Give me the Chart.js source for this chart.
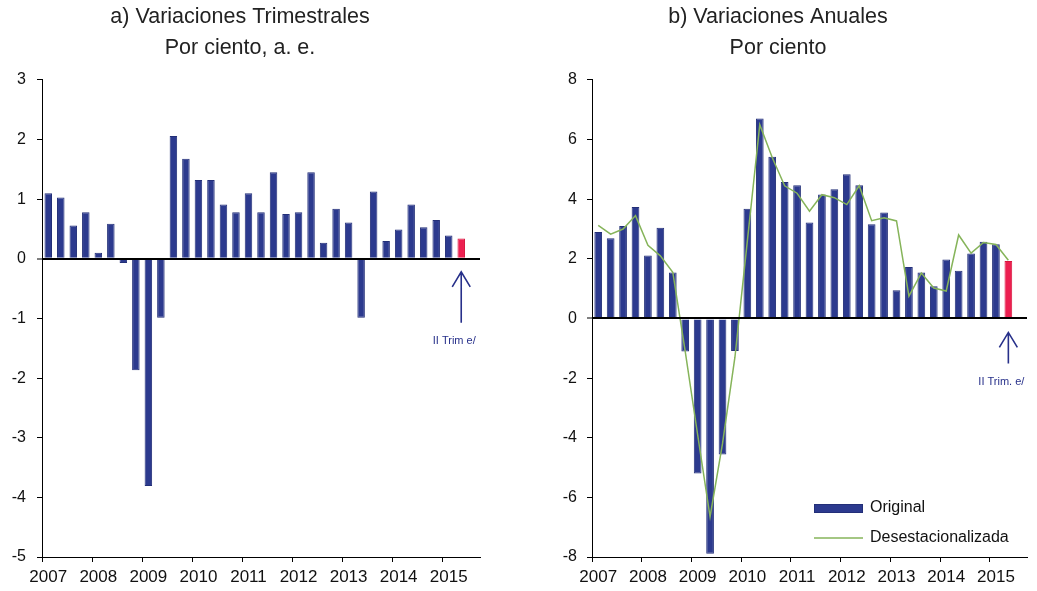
<!DOCTYPE html>
<html>
<head>
<meta charset="utf-8">
<script src="https://cdn.jsdelivr.net/npm/chart.js@4.4.0/dist/chart.umd.min.js"></script>
<style>
  body { margin: 0; background: #fff; width: 1037px; height: 591px; overflow: hidden; position: relative; }
  canvas { position: absolute; top: 0; }
  #trim { left: 0; }
  #anual { left: 520px; }
</style>
</head>
<body>
<canvas id="trim" width="520" height="591"></canvas>
<canvas id="anual" width="517" height="591"></canvas>
<script>
// data (2007-I .. 2015-II)
const years = ['2007', '2008', '2009', '2010', '2011', '2012', '2013', '2014', '2015'];
const quarters = ['I', 'II', 'III', 'IV'];

const trimestral = [1.10, 1.03, 0.56, 0.78, 0.10, 0.59, -0.07, -1.87, -3.81, -0.99, 2.06, 1.68,
  1.32, 1.32, 0.91, 0.78, 1.10, 0.78, 1.45, 0.75, 0.78, 1.45, 0.27, 0.84, 0.61, -0.99,
  1.13, 0.30, 0.49, 0.91, 0.53, 0.65, 0.39, 0.34];

const anualOriginal = [2.90, 2.69, 3.10, 3.74, 2.11, 3.04, 1.54, -1.11, -5.20, -7.89, -4.56, -1.09,
  3.68, 6.71, 5.42, 4.58, 4.47, 3.22, 4.16, 4.33, 4.84, 4.47, 3.16, 3.55, 0.95, 1.73,
  1.54, 1.08, 1.98, 1.60, 2.18, 2.57, 2.49, 1.93];

const anualDesest = [3.12, 2.83, 3.00, 3.45, 2.45, 2.10, 1.55, -1.10, -3.90, -6.65, -4.20, -1.30,
  2.60, 6.50, 5.40, 4.45, 4.20, 3.60, 4.15, 4.05, 3.82, 4.45, 3.28, 3.38, 3.27, 0.75,
  1.52, 1.02, 0.92, 2.80, 2.19, 2.55, 2.48, 1.95];

const titleTrim = ['a) Variaciones Trimestrales', 'Por ciento, a. e.'];
const titleAnual = ['b) Variaciones Anuales', 'Por ciento'];
const seriesNames = ['Original', 'Desestacionalizada'];
const noteTrim = 'II Trim e/';
const noteAnual = 'II Trim. e/';

const NAVY = '#2c3a8e';
const RED = '#ec1f50';
const GREEN = '#86b45a';

// axis runs to 2015-III (one empty slot after the last bar)
const categories = [];
years.forEach(y => quarters.forEach(q => categories.push(y + '-' + q)));
categories.length = 35;

Chart.defaults.font.family = '"Liberation Sans", Arial, sans-serif';
Chart.defaults.color = '#111';

function barColors(values) {
  return values.map((v, i) => i === values.length - 1 ? RED : NAVY);
}
function barBorders(values) {
  return values.map((v, i) => i === values.length - 1 ? '#d8163f' : '#232f78');
}

function xAxis() {
  return {
    offset: true,
    grid: {
      offset: true,
      drawOnChartArea: false,
      drawTicks: true,
      tickLength: 5,
      color: ctx => ctx.index % 4 === 0 ? '#000' : 'rgba(0,0,0,0)'
    },
    border: { color: '#000', width: 1 },
    ticks: {
      autoSkip: false,
      maxRotation: 0,
      padding: 5,
      font: { size: 17 },
      callback: (v, i) => categories[i].endsWith('-I') ? categories[i].slice(0, 4) : ''
    },
    afterFit: s => { s.height = 34; }
  };
}

function yAxis(min, max, step, width, pad) {
  return {
    min: min, max: max,
    ticks: { stepSize: step, padding: pad, font: { size: 16 } },
    grid: {
      z: 1,
      drawTicks: true,
      tickLength: 5,
      tickColor: '#000',
      tickWidth: 1,
      color: ctx => ctx.tick && ctx.tick.value === 0 ? '#000' : 'rgba(0,0,0,0)',
      lineWidth: ctx => ctx.tick && ctx.tick.value === 0 ? 2 : 1
    },
    border: { color: '#000', width: 1, z: 1 },
    afterFit: s => { s.width = width; }
  };
}

// arrow + "II Trim e/" under the last bar
const notePlugin = {
  id: 'note',
  afterDraw(chart, args, opts) {
    const { ctx } = chart;
    const px = chart.scales.x.getPixelForValue(opts.index);
    const y0 = chart.scales.y.getPixelForValue(0);
    ctx.save();
    ctx.strokeStyle = '#27308a';
    ctx.lineWidth = 1.6;
    ctx.beginPath();
    ctx.moveTo(px, y0 + opts.top);
    ctx.lineTo(px, y0 + opts.bottom);
    ctx.moveTo(px - 9, y0 + opts.top + 15);
    ctx.lineTo(px, y0 + opts.top);
    ctx.lineTo(px + 9, y0 + opts.top + 15);
    ctx.stroke();
    ctx.fillStyle = '#27308a';
    ctx.font = '11px "Liberation Sans", Arial, sans-serif';
    ctx.textAlign = 'center';
    ctx.textBaseline = 'middle';
    ctx.fillText(opts.text, px - 7, y0 + opts.textY);
    ctx.restore();
  }
};

// legend sitting inside the plot, lower right
const boxLegend = {
  id: 'boxLegend',
  afterDraw(chart) {
    const { ctx, chartArea } = chart;
    const ds = chart.data.datasets;
    const x = chartArea.left + 222;
    const y1 = chartArea.bottom - 49;
    const y2 = chartArea.bottom - 19;
    ctx.save();
    ctx.fillStyle = NAVY;
    ctx.fillRect(x, y1 - 4, 49, 9);
    ctx.strokeStyle = '#232f78';
    ctx.lineWidth = 1;
    ctx.strokeRect(x + 0.5, y1 - 3.5, 48, 8);
    ctx.strokeStyle = ds[1].borderColor;
    ctx.lineWidth = 1.5;
    ctx.beginPath();
    ctx.moveTo(x, y2);
    ctx.lineTo(x + 49, y2);
    ctx.stroke();
    ctx.fillStyle = '#111';
    ctx.font = '16px "Liberation Sans", Arial, sans-serif';
    ctx.textBaseline = 'middle';
    ctx.fillText(ds[0].label, x + 56, y1);
    ctx.fillText(ds[1].label, x + 56, y2);
    ctx.restore();
  }
};

function titleOpts(text) {
  return {
    display: true,
    text: text,
    color: '#222',
    font: { size: 21.5, weight: 'normal', lineHeight: 1.44 },
    padding: { top: 2, bottom: 16 }
  };
}

new Chart(document.getElementById('trim'), {
  type: 'bar',
  data: {
    labels: categories,
    datasets: [{
      label: seriesNames[0],
      data: trimestral,
      backgroundColor: barColors(trimestral),
      borderColor: barBorders(trimestral),
      borderWidth: 1,
      barPercentage: 0.6,
      categoryPercentage: 1
    }]
  },
  options: {
    responsive: false,
    animation: false,
    layout: { padding: { left: 0, right: 40, top: 0, bottom: 0 } },
    plugins: {
      legend: { display: false },
      tooltip: { enabled: false },
      title: titleOpts(titleTrim),
      note: { index: trimestral.length - 1, top: 13, bottom: 64, textY: 82, text: noteTrim }
    },
    scales: { x: xAxis(), y: yAxis(-5, 3, 1, 42, 11) }
  },
  plugins: [notePlugin]
});

new Chart(document.getElementById('anual'), {
  data: {
    labels: categories,
    datasets: [{
      type: 'bar',
      label: seriesNames[0],
      data: anualOriginal,
      backgroundColor: barColors(anualOriginal),
      borderColor: barBorders(anualOriginal),
      borderWidth: 1,
      barPercentage: 0.62,
      categoryPercentage: 1,
      order: 2
    }, {
      type: 'line',
      label: seriesNames[1],
      data: anualDesest,
      borderColor: GREEN,
      borderWidth: 1.5,
      pointRadius: 0,
      tension: 0,
      fill: false,
      order: 1
    }]
  },
  options: {
    responsive: false,
    animation: false,
    layout: { padding: { left: 9, right: 10, top: 0, bottom: 0 } },
    plugins: {
      legend: { display: false },
      tooltip: { enabled: false },
      title: titleOpts(titleAnual),
      note: { index: anualOriginal.length - 1, top: 14, bottom: 45, textY: 64, text: noteAnual }
    },
    scales: { x: xAxis(), y: yAxis(-8, 8, 2, 63, 10) }
  },
  plugins: [notePlugin, boxLegend]
});
</script>
</body>
</html>
